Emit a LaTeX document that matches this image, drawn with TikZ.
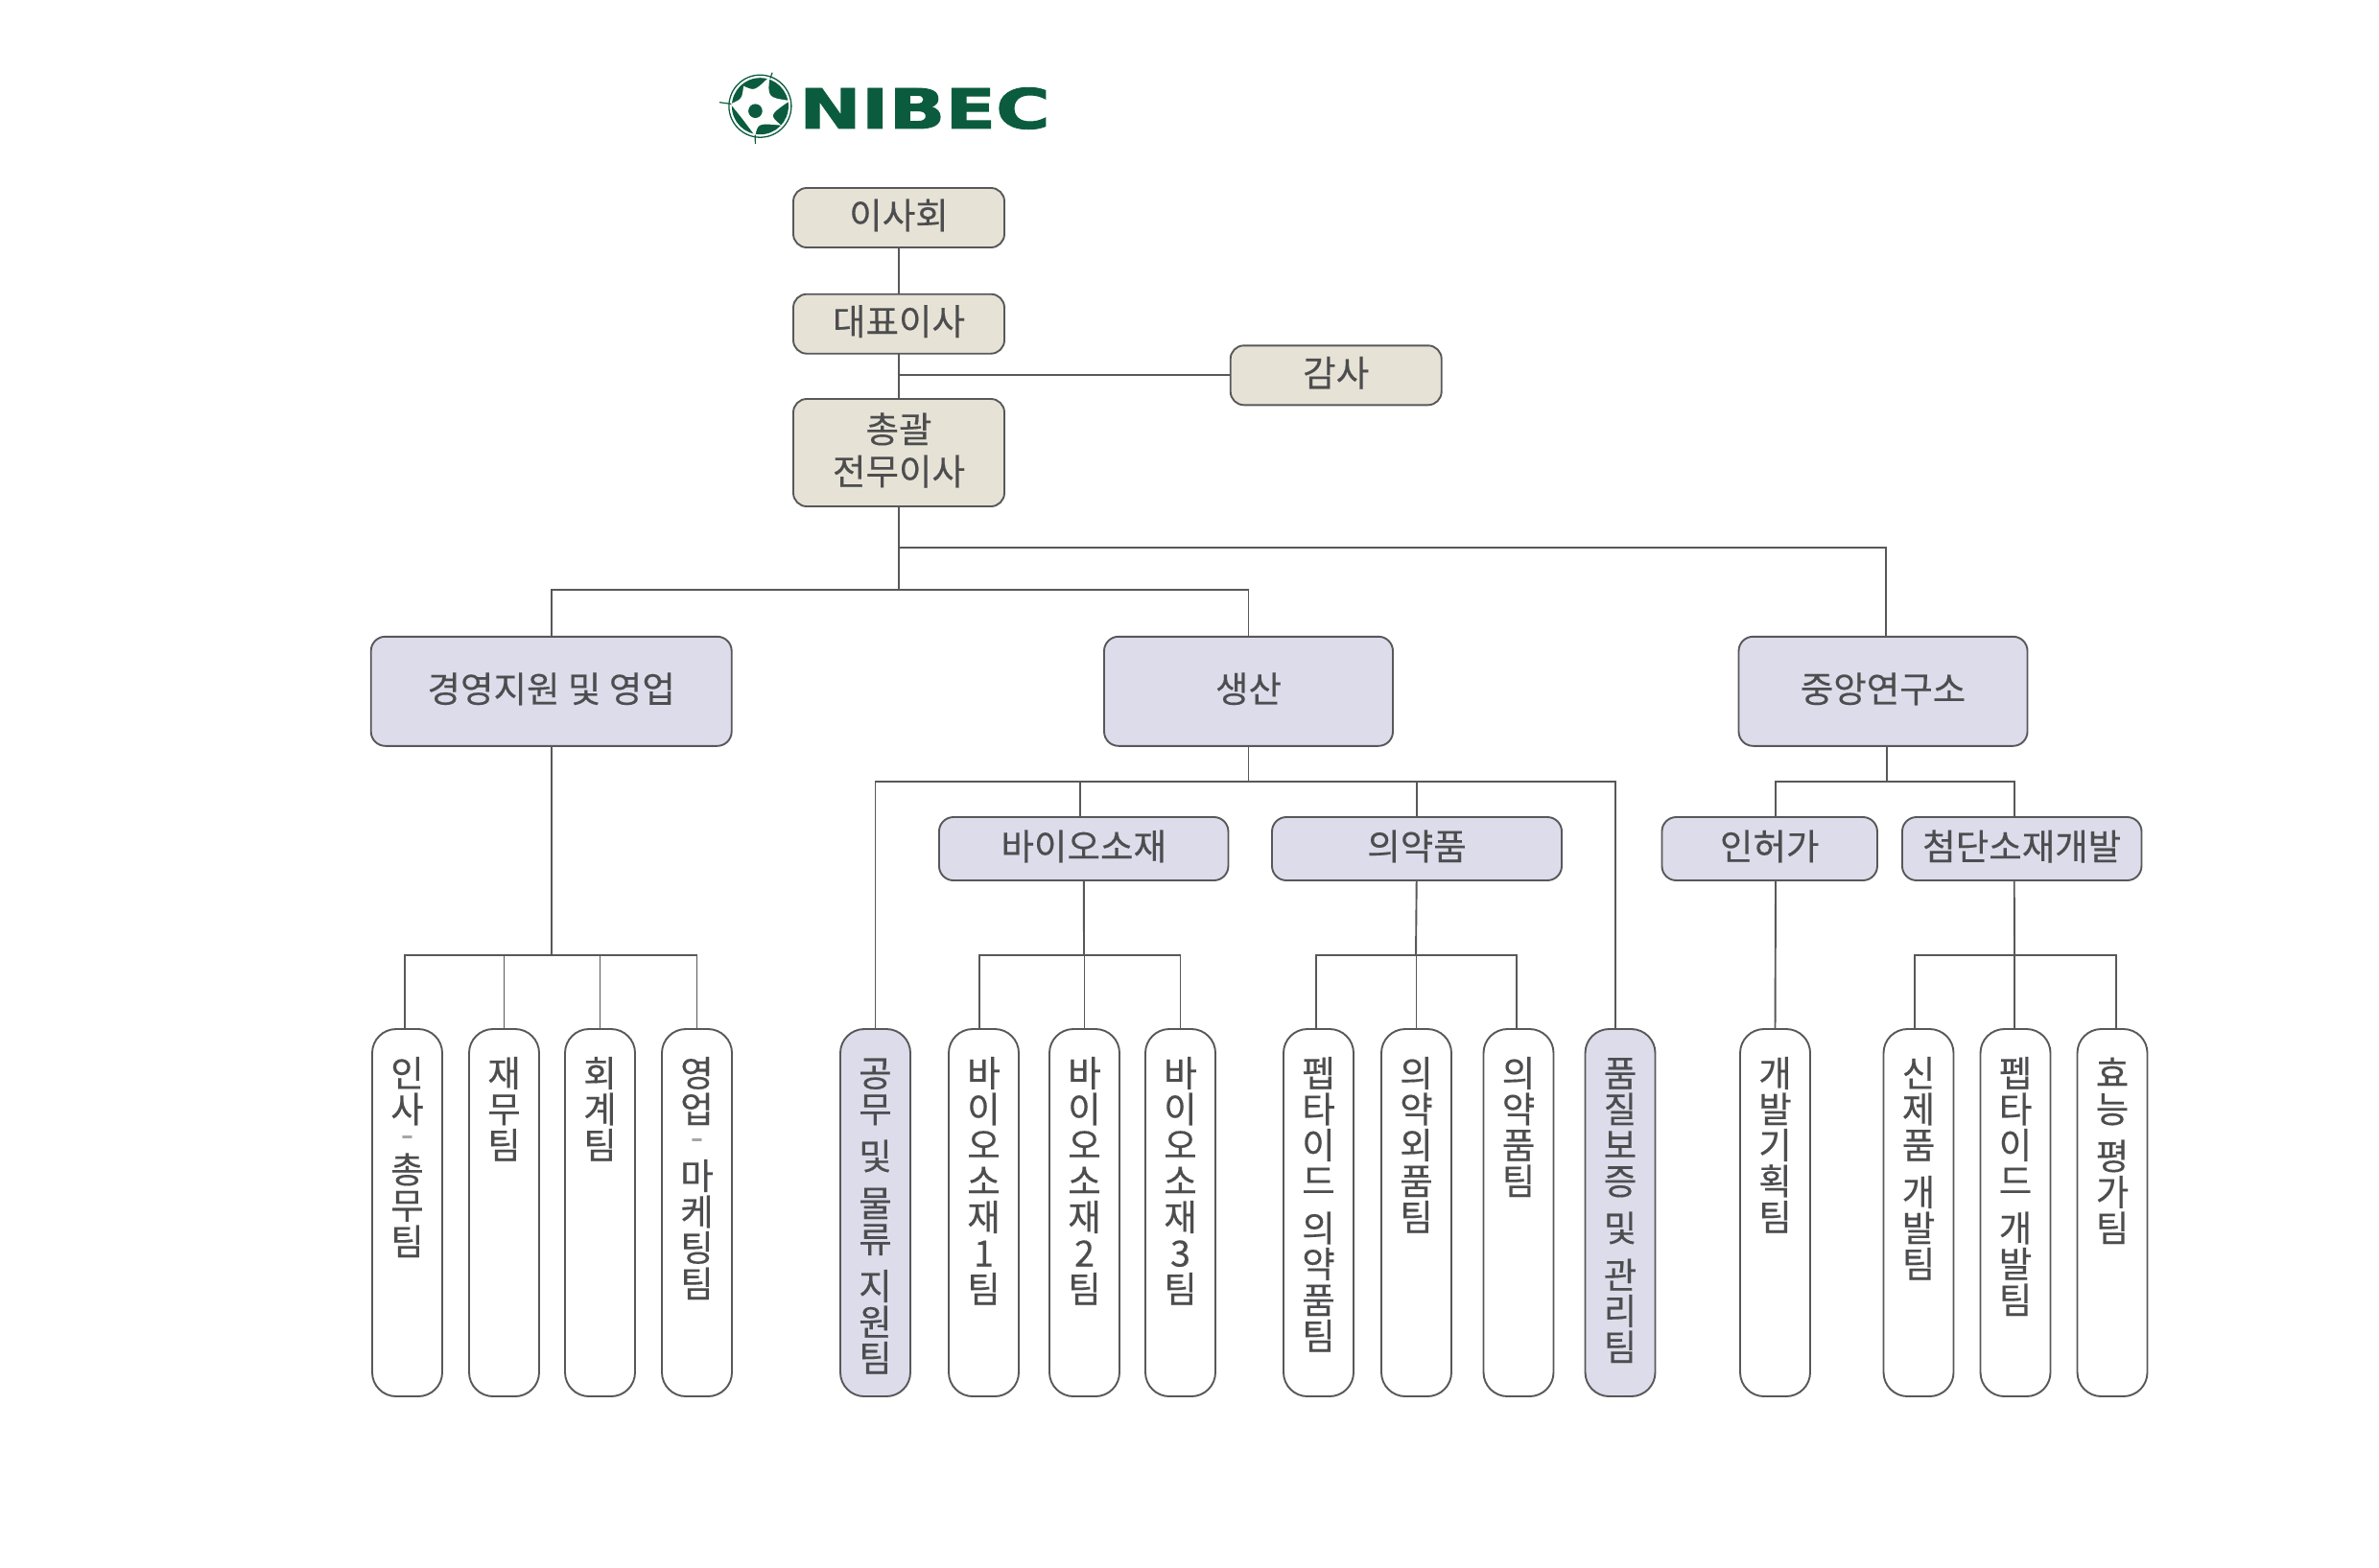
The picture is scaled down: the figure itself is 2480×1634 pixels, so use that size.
\documentclass[tikz,border=0pt]{standalone}
\usepackage{fontspec}
\setmainfont[FakeBold=0.3]{Noto Sans CJK KR}
\newfontfamily\logofont[BoldFeatures={FakeBold=1.6}]{DejaVu Sans}
\definecolor{linegray}{HTML}{58585A}
\definecolor{textgray}{HTML}{4D4D4F}
\definecolor{dashgray}{HTML}{A6A6A6}
\definecolor{cream}{HTML}{E6E3D6}
\definecolor{lavender}{HTML}{DCDCEB}
\definecolor{logogreen}{HTML}{0B5C3E}
\newcommand{\teamtext}[1]{\parbox[c][383pt][t]{73pt}{\centering\lineskiplimit=-100pt\rule{0pt}{60pt}#1}}
\newcommand{\dashrow}{{\color{dashgray}-}}
\tikzset{
  orgbox/.style={rectangle,draw=linegray,line width=1.9pt,text=textgray,align=center,inner sep=0pt,outer sep=0pt,
    text depth=8pt,font=\fontsize{37.5}{44}\selectfont},
  topbox/.style={orgbox,fill=cream,rounded corners=14pt,minimum width=220pt},
  midbox/.style={orgbox,fill=lavender,rounded corners=15pt,minimum height=114pt},
  subbox/.style={orgbox,fill=lavender,rounded corners=15pt,minimum height=66pt},
  teambox/.style={orgbox,text depth={},fill=white,rounded corners=25pt,minimum width=73pt,minimum height=383pt,
    font=\fontsize{37.5}{37.5}\selectfont},
  elbow/.style={to path={-| (\tikztotarget)}}
}
\begin{document}
\begin{tikzpicture}[x=1pt,y=-1pt]
  \useasboundingbox (0,0) rectangle (2480,1634);
  % logo
  \begin{scope}[shift={(792.4,110.7)}]
    \fill[logogreen] (0,0) circle (29.5);
    \draw[logogreen,line width=1.3pt] (0,0) circle (32.5);
    \fill[white] (10,-31) .. controls (7.7,-9) and (7.7,-9) .. (31,-5.7)
      .. controls (9.3,9.3) and (9.3,9.3) .. (22,20)
      .. controls (-2.3,17.7) and (-2.3,17.7) .. (-5.2,31)
      .. controls (-20,11) and (-20,11) .. (-31,-2.3)
      .. controls (-19,-7.3) and (-19,-7.3) .. (-17.3,-21)
      .. controls (-5.7,-15.7) and (-5.7,-15.7) .. (10,-31) -- cycle;
    \fill[logogreen] (-5,5) circle (7.3);
    \draw[logogreen,line width=1.2pt] (10.5,-29) -- (12.7,-35);
    \draw[logogreen,line width=1.2pt] (-30,-2.3) -- (-42.3,-4);
    \draw[logogreen,line width=1.2pt] (-5.2,30) -- (-5,39.3);
  \end{scope}
  \node[anchor=center,inner sep=0pt,xscale=1.34,text=logogreen,font=\logofont\bfseries\fontsize{57.6}{60}\selectfont] (logo) at (964,113) {NIBEC};
  % top of the chart
  \node[topbox,minimum height=62pt] (board) at (937,227) {이사회};
  \node[topbox,minimum height=62pt] (ceo) at (937,337.7) {대표이사};
  \node[topbox,minimum height=62pt] (audit) at (1392.7,391.3) {감사};
  \node[topbox,minimum height=112pt] (chief) at (937,472) {총괄\\전무이사};
  % divisions
  \node[midbox,minimum width=376pt] (mgmt) at (574.7,720.8) {경영지원 및 영업};
  \node[midbox,minimum width=301pt] (prod) at (1301.5,720.8) {생산};
  \node[midbox,minimum width=301pt] (rnd) at (1963,720.8) {중앙연구소};
  \node[subbox,minimum width=301.5pt] (bio) at (1129.7,885) {바이오소재};
  \node[subbox,minimum width=302pt] (pharm) at (1477,885) {의약품};
  \node[subbox,minimum width=224.5pt] (permit) at (1844.7,885) {인허가};
  \node[subbox,minimum width=249.5pt] (adv) at (2107.7,885) {첨단소재개발};
  % teams
  \begin{scope}[every node/.style={teambox}]
    \node (hr) at (424.5,1264.5) {\teamtext{인\\사\\[-12pt]\dashrow\\총\\무\\팀}};
    \node (fin) at (525.5,1264.5) {\teamtext{재\\무\\팀}};
    \node (acc) at (625.5,1264.5) {\teamtext{회\\계\\팀}};
    \node (sales) at (726.5,1264.5) {\teamtext{영\\업\\[-9pt]\dashrow\\[3.5pt]마\\케\\팅\\팀}};
    \node[fill=lavender] (works) at (912.5,1264.5) {\teamtext{공\\무\\[11.5pt]및\\[11.5pt]물\\류\\[11.5pt]지\\원\\팀}};
    \node (bioa) at (1025.5,1264.5) {\teamtext{바\\이\\오\\소\\재\\1\\팀}};
    \node (biob) at (1130.5,1264.5) {\teamtext{바\\이\\오\\소\\재\\2\\팀}};
    \node (bioc) at (1230.5,1264.5) {\teamtext{바\\이\\오\\소\\재\\3\\팀}};
    \node (pep) at (1374.5,1264.5) {\teamtext{펩\\타\\이\\드\\[11.5pt]의\\약\\품\\팀}};
    \node (quasi) at (1476.5,1264.5) {\teamtext{의\\약\\외\\품\\팀}};
    \node (drug) at (1583,1264.5) {\teamtext{의\\약\\품\\팀}};
    \node[fill=lavender] (qa) at (1689,1264.5) {\teamtext{품\\질\\보\\증\\[11.5pt]및\\[11.5pt]관\\리\\팀}};
    \node (plan) at (1850.5,1264.5) {\teamtext{개\\발\\기\\획\\팀}};
    \node (newdev) at (2000,1264.5) {\teamtext{신\\제\\품\\[11.5pt]개\\발\\팀}};
    \node (pepdev) at (2101,1264.5) {\teamtext{펩\\타\\이\\드\\[11.5pt]개\\발\\팀}};
    \node (eval) at (2202,1264.5) {\teamtext{효\\능\\[11.5pt]평\\가\\팀}};
  \end{scope}
  % bus points
  \coordinate (auditbus) at (937,391.3);
  \coordinate (mainbus) at (937,615);
  \coordinate (rndbus) at (937,571);
  \coordinate (mgmtbus) at (574.7,996);
  \coordinate (prodbus) at (1301.5,815);
  \coordinate (labbus) at (1967,815);
  \coordinate (biobus) at (1130,996);
  \coordinate (pharmbus) at (1476,996);
  \coordinate (advbus) at (2100,996);
  % connectors
  \begin{scope}[every edge/.style={draw=linegray,line width=1.9pt}]
    \path (board) edge (ceo);
    \path (ceo) edge (chief);
    \path (auditbus) edge (audit);
    \path (chief) edge (mainbus);
    \path (mainbus) edge[elbow] (mgmt.north);
    \path (mainbus) edge[elbow] (prod.north);
    \path (rndbus) edge[elbow] ([xshift=3pt]rnd.north);
    \path (mgmt) edge (mgmtbus);
    \path (mgmtbus) edge[elbow] ([xshift=-2.5pt]hr.north);
    \path (mgmtbus) edge[elbow] (fin.north);
    \path (mgmtbus) edge[elbow] (acc.north);
    \path (mgmtbus) edge[elbow] (sales.north);
    \path (prod) edge (prodbus);
    \path (prodbus) edge[elbow] (works.north);
    \path (prodbus) edge[elbow] ([xshift=-4pt]bio.north);
    \path (prodbus) edge[elbow] (pharm.north);
    \path (prodbus) edge[elbow] ([xshift=-5pt]qa.north);
    \path ([xshift=4pt]rnd.south) edge (labbus);
    \path (labbus) edge[elbow] ([xshift=6.3pt]permit.north);
    \path (labbus) edge[elbow] ([xshift=-8pt]adv.north);
    \path (bio) edge (biobus);
    \path (biobus) edge[elbow] ([xshift=-4.5pt]bioa.north);
    \path (biobus) edge[elbow] (biob.north);
    \path (biobus) edge[elbow] (bioc.north);
    \path (pharm) edge (pharmbus);
    \path (pharmbus) edge[elbow] ([xshift=-2.5pt]pep.north);
    \path (pharmbus) edge[elbow] (quasi.north);
    \path (pharmbus) edge[elbow] ([xshift=-2pt]drug.north);
    \path ([xshift=6.3pt]permit.south) edge (plan.north);
    \path ([xshift=-8pt]adv.south) edge (advbus);
    \path (advbus) edge[elbow] ([xshift=-4pt]newdev.north);
    \path (advbus) edge[elbow] ([xshift=-1pt]pepdev.north);
    \path (advbus) edge[elbow] ([xshift=4pt]eval.north);
  \end{scope}
\end{tikzpicture}
\end{document}
